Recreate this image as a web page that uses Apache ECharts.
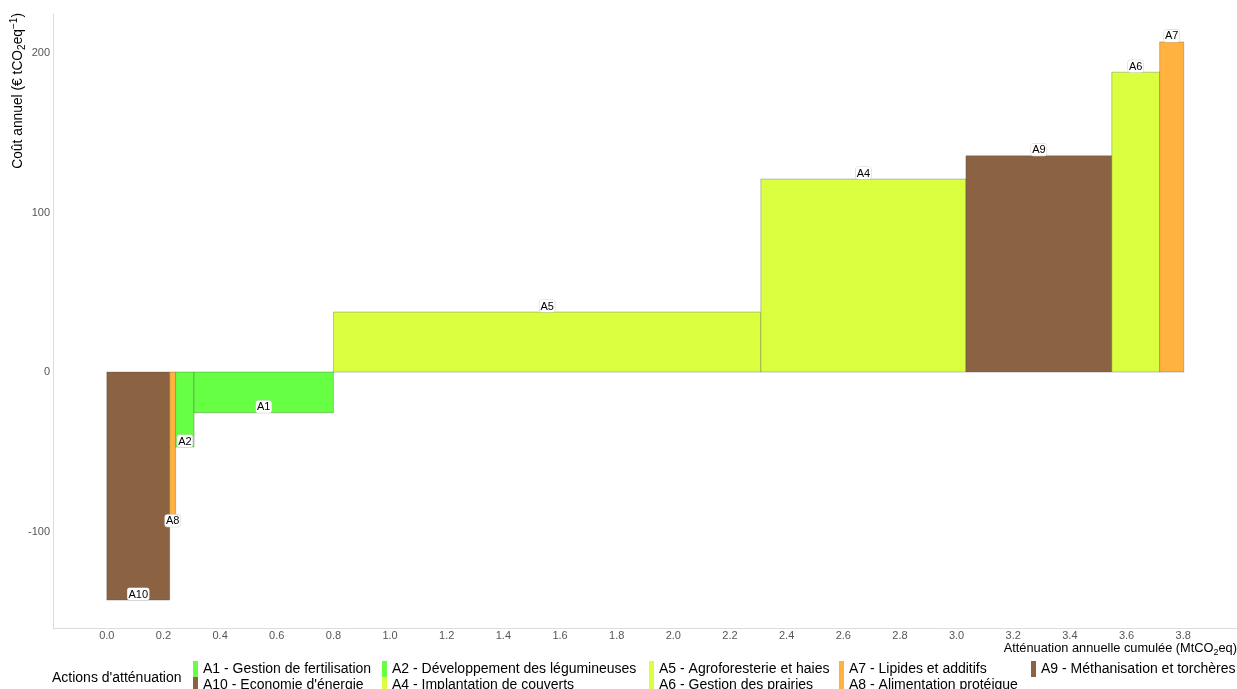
<!DOCTYPE html>
<html>
<head>
<meta charset="utf-8">
<title>Coût annuel et atténuation cumulée</title>
<script src="https://cdn.jsdelivr.net/npm/echarts@6/dist/echarts.min.js"></script>
<style>
  html, body { margin: 0; padding: 0; background: #ffffff; }
  #chart { width: 1237px; height: 689px; }
</style>
</head>
<body>
<div id="chart"></div>
<script>
// Actions, in the order they are stacked along the cumulative abatement axis
const codes = ['A10', 'A8', 'A2', 'A1', 'A5', 'A4', 'A9', 'A6', 'A7'];
// Annual abatement of each action (MtCO2eq) = bar width
const abatement = [0.222, 0.021, 0.065, 0.492, 1.509, 0.724, 0.515, 0.169, 0.085];
// Annual cost (€ per tCO2eq) = bar height
const costs = [-143, -89.5, -47, -25.5, 37.6, 121, 135.6, 188, 207];

const actionLabels = {
  A1: 'Gestion de fertilisation',
  A2: 'Développement des légumineuses',
  A4: 'Implantation de couverts',
  A5: 'Agroforesterie et haies',
  A6: 'Gestion des prairies',
  A7: 'Lipides et additifs',
  A8: 'Alimentation protéique',
  A9: 'Méthanisation et torchères',
  A10: 'Economie d\'énergie'
};
const actionColors = {
  A1: '#66ff44', A2: '#66ff44',
  A4: '#daff3f', A5: '#daff3f', A6: '#daff3f',
  A7: '#ffb240', A8: '#ffb240',
  A9: '#8b6342', A10: '#8b6342'
};
// Legend entries, column by column (two rows)
const legendColumns = [['A1', 'A10'], ['A2', 'A4'], ['A5', 'A6'], ['A7', 'A8'], ['A9']];
const legendLefts = [193, 382, 649, 839, 1031];
const legendRowTops = [661, 677];

const xTicks = [0, 0.2, 0.4, 0.6, 0.8, 1.0, 1.2, 1.4, 1.6, 1.8, 2.0, 2.2, 2.4, 2.6, 2.8, 3.0, 3.2, 3.4, 3.6, 3.8];
const yTicks = [-100, 0, 100, 200];

// Labels that would collide with their neighbours hang below the bar end
const labelsBelow = new Set(['A8']);

const FONT = '"Liberation Sans", Arial, Helvetica, sans-serif';
const fullName = c => c + ' - ' + actionLabels[c];

// Start/end of each bar on the cumulative axis
let acc = 0;
const bars = codes.map((c, i) => {
  const x0 = acc;
  acc += abatement[i];
  return { code: c, x0: x0, x1: acc, cost: costs[i] };
});

function makeRenderer(code) {
  return function (params, api) {
    const x0 = api.value(0), x1 = api.value(1), v = api.value(2);
    const pBase = api.coord([x0, 0]);
    const pEnd = api.coord([x1, v]);
    const top = Math.min(pBase[1], pEnd[1]);
    const h = Math.abs(pEnd[1] - pBase[1]);
    const below = labelsBelow.has(code);
    return {
      type: 'group',
      children: [
        {
          type: 'rect',
          shape: { x: pBase[0], y: top, width: pEnd[0] - pBase[0], height: h },
          style: { fill: api.visual('color'), stroke: 'rgba(70,70,70,0.45)', lineWidth: 0.7 }
        },
        {
          type: 'text',
          z2: 100,
          style: {
            text: code,
            x: (pBase[0] + pEnd[0]) / 2,
            y: pEnd[1],
            align: 'center',
            verticalAlign: below ? 'top' : 'bottom',
            fontFamily: FONT,
            fontSize: 11,
            fill: '#000',
            backgroundColor: '#ffffff',
            borderColor: '#d0d0d0',
            borderWidth: 0.5,
            borderRadius: 2,
            padding: [1, 1, 0, 1]
          }
        }
      ]
    };
  };
}

const series = bars.map(b => ({
  type: 'custom',
  name: fullName(b.code),
  itemStyle: { color: actionColors[b.code] },
  renderItem: makeRenderer(b.code),
  encode: { x: [0, 1], y: 2 },
  data: [[b.x0, b.x1, b.cost]],
  animation: false
}));

// One legend block per entry so the entries fill the grid column by column
const legends = [];
legendColumns.forEach((col, ci) => {
  col.forEach((code, ri) => {
    legends.push({
      orient: 'horizontal',
      left: legendLefts[ci],
      top: legendRowTops[ri],
      padding: 0,
      itemWidth: 5,
      itemHeight: 16,
      itemGap: 0,
      icon: 'rect',
      selectedMode: false,
      data: [fullName(code)],
      textStyle: { fontFamily: FONT, fontSize: 14, color: '#000' }
    });
  });
});

function titleRich(size) {
  const small = Math.round(size * 0.7);
  return {
    a: { fontFamily: FONT, fontSize: size, color: '#000', lineHeight: 18, verticalAlign: 'middle' },
    s: { fontFamily: FONT, fontSize: small, color: '#000', lineHeight: 18, verticalAlign: 'bottom' },
    p: { fontFamily: FONT, fontSize: small, color: '#000', lineHeight: 18, verticalAlign: 'top' }
  };
}

const chart = echarts.init(document.getElementById('chart'), null, { renderer: 'canvas' });
chart.setOption({
  backgroundColor: '#ffffff',
  animation: false,
  textStyle: { fontFamily: FONT },
  grid: { left: 53, right: 0, top: 14, bottom: 61, containLabel: false },
  xAxis: {
    type: 'value',
    min: -0.19,
    max: 3.99,
    axisLine: { show: true, onZero: false, lineStyle: { color: '#dcdcdc', width: 1 } },
    axisTick: { show: false },
    splitLine: { show: false },
    axisLabel: {
      customValues: xTicks,
      formatter: v => v.toFixed(1),
      color: '#555',
      fontSize: 11,
      margin: 2,
      fontFamily: FONT
    }
  },
  yAxis: {
    type: 'value',
    min: -160.5,
    max: 224.5,
    axisLine: { show: true, onZero: false, lineStyle: { color: '#dcdcdc', width: 1 } },
    axisTick: { show: false },
    splitLine: { show: false },
    axisLabel: {
      customValues: yTicks,
      color: '#555',
      fontSize: 11,
      margin: 3,
      fontFamily: FONT
    }
  },
  legend: legends,
  graphic: [
    {
      type: 'text',
      x: 18,
      y: 13,
      rotation: Math.PI / 2,
      style: {
        text: '{a|Coût annuel (€ tCO}{s|2}{a|eq}{p|−1}{a|)}',
        rich: titleRich(13.8),
        align: 'right',
        verticalAlign: 'middle'
      }
    },
    {
      type: 'text',
      x: 1237,
      y: 648,
      style: {
        text: '{a|Atténuation annuelle cumulée (MtCO}{s|2}{a|eq)}',
        rich: titleRich(12.8),
        align: 'right',
        verticalAlign: 'middle'
      }
    },
    {
      type: 'text',
      x: 52,
      y: 678,
      style: {
        text: 'Actions d\'atténuation',
        fontFamily: FONT,
        fontSize: 14,
        fill: '#000',
        align: 'left',
        verticalAlign: 'middle'
      }
    }
  ],
  series: series
});
</script>
</body>
</html>
